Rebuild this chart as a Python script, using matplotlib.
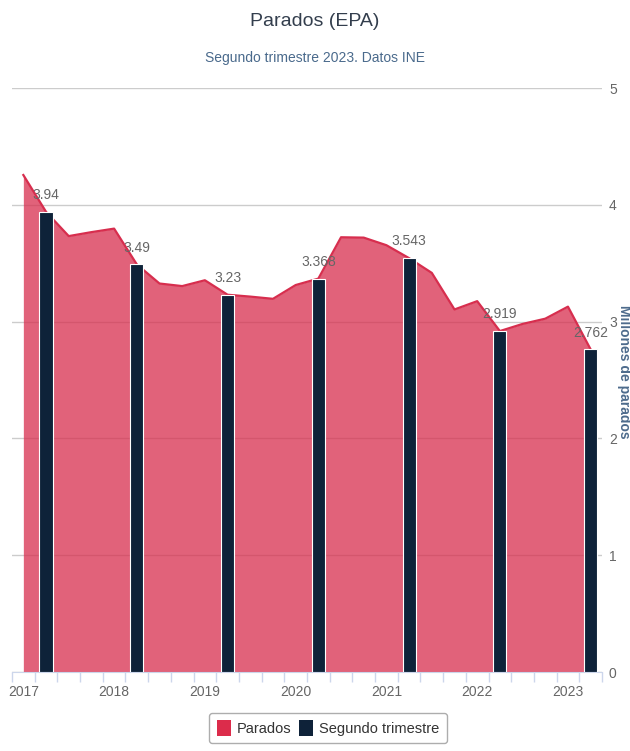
import numpy as np
import matplotlib
matplotlib.use("Agg")
import matplotlib.pyplot as plt
from matplotlib.patches import Patch

plt.rcParams['font.family'] = ['Liberation Sans Narrow', 'Liberation Sans', 'DejaVu Sans']

# datos trimestrales 2017T1 - 2023T2, millones de parados
parados = [4.255, 3.94, 3.732, 3.766, 3.796, 3.490, 3.326, 3.304, 3.354, 3.230,
           3.214, 3.195, 3.313, 3.368, 3.722, 3.719, 3.654, 3.543, 3.417, 3.104,
           3.175, 2.919, 2.980, 3.025, 3.128, 2.762]
segundo_idx = [1, 5, 9, 13, 17, 21, 25]
segundo = [3.94, 3.49, 3.23, 3.368, 3.543, 2.919, 2.762]
etiquetas = ["3.94", "3.49", "3.23", "3.368", "3.543", "2.919", "2.762"]
years = ["2017", "2018", "2019", "2020", "2021", "2022", "2023"]

red = "#d72e4e"
navy = "#0e2239"

fig = plt.figure(figsize=(6.3, 7.51), dpi=100)
ax = fig.add_axes([12/630, 79/751, 590/630, 584/751])

x = np.arange(len(parados))
ax.fill_between(x, parados, 0, color=red, alpha=0.75, lw=0, zorder=2)
ax.plot(x, parados, color=red, lw=1.6, zorder=3)
ax.bar(segundo_idx, segundo, width=0.58, color=navy, edgecolor="white", lw=0.8, zorder=4)
for i, v, t in zip(segundo_idx, segundo, etiquetas):
    ax.annotate(t, (i, v), xytext=(0, 7), textcoords="offset points",
                ha="center", va="bottom", fontsize=10, color="#666666", zorder=5)

ax.set_xlim(-0.5, len(parados) - 0.5)
ax.set_ylim(0, 5)
ax.yaxis.tick_right()
ax.set_yticks(range(6))
ax.tick_params(axis="y", length=0, pad=5, labelsize=10, labelcolor="#666666")
ax.grid(axis="y", color="#cccccc", lw=1, zorder=0)
ax.set_axisbelow(True)

ax.set_xticks(range(0, len(parados), 4))
ax.set_xticklabels(years)
ax.set_xticks(np.arange(-0.5, len(parados), 1), minor=True)
ax.tick_params(axis="x", which="major", length=0, pad=9, labelsize=10, labelcolor="#666666")
ax.tick_params(axis="x", which="minor", length=7, color="#ccd6eb", width=1)

for s in ["top", "left", "right"]:
    ax.spines[s].set_visible(False)
ax.spines["bottom"].set_color("#ccd6eb")

fig.text(0.5, 1 - 22/751, "Parados (EPA)", ha="center", va="center", fontsize=14, color="#333e4d")
fig.text(0.5, 1 - 58/751, "Segundo trimestre 2023. Datos INE", ha="center", va="center",
         fontsize=10, color="#4a6a8c")
fig.text(624/630, 1 - 372/751, "Millones de parados", rotation=270, ha="center", va="center",
         fontsize=10, fontweight="bold", color="#4d6b8c")

h = [Patch(facecolor="#dc2c4b", edgecolor="none"), Patch(facecolor=navy, edgecolor="none")]
leg = fig.legend(h, ["Parados", "Segundo trimestre"], loc="center", bbox_to_anchor=(328/630, 1 - 728/751),
                 ncol=2, frameon=True, fontsize=10.5, handlelength=1.0, handleheight=1.3,
                 handletextpad=0.4, columnspacing=0.5, borderpad=0.5, fancybox=True)
leg.get_frame().set_edgecolor("#999999")
for t in leg.get_texts():
    t.set_color("#333333")

fig.savefig("out.png", dpi=100)
